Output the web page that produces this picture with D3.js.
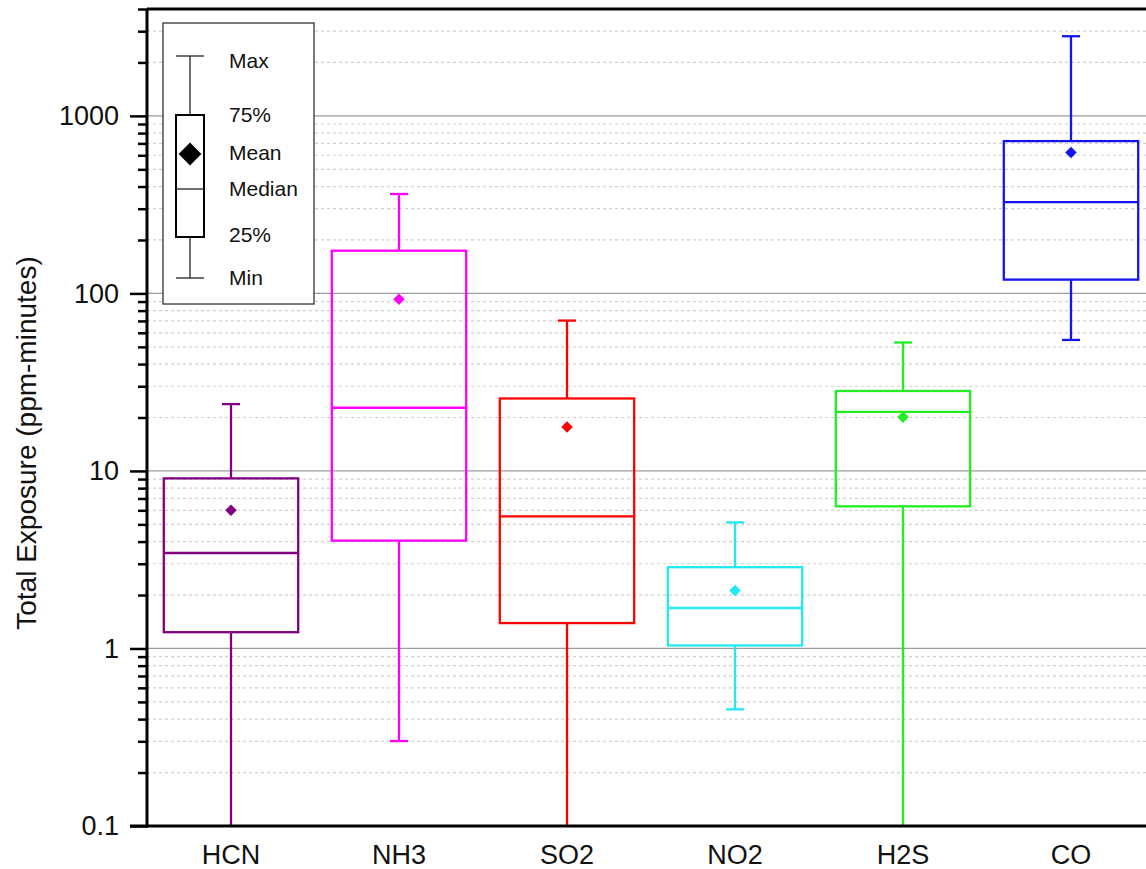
<!DOCTYPE html>
<html>
<head>
<meta charset="utf-8">
<script src="https://cdn.jsdelivr.net/npm/d3@7"></script>
<style>
  body { margin: 0; background: #fff; }
  svg { display: block; }
  svg text { font-family: "Liberation Sans", Arial, sans-serif; }
</style>
</head>
<body>
<script>
// Data (ppm-minutes)
const gases   = ["HCN", "NH3", "SO2", "NO2", "H2S", "CO"];
const colours = ["#800080", "#ff00ff", "#ff0000", "#22e8f0", "#22ee22", "#1414f0"];
const mins    = [0.05, 0.301, 0.05, 0.454, 0.05, 54.7];
const q1s     = [1.235, 4.05, 1.39, 1.04, 6.32, 119.6];
const medians = [3.45, 22.7, 5.55, 1.69, 21.5, 327];
const means   = [6.0, 92.8, 17.7, 2.12, 20.1, 622];
const q3s     = [9.08, 174, 25.6, 2.87, 28.2, 721];
const maxs    = [23.8, 363, 70.3, 5.13, 52.9, 2810];
const yTicks  = [0.1, 1, 10, 100, 1000];
const legendLabels = ["Max", "75%", "Mean", "Median", "25%", "Min"];

const data = gases.map((g, i) => ({
    gas: g, colour: colours[i], min: mins[i], q1: q1s[i],
    median: medians[i], mean: means[i], q3: q3s[i], max: maxs[i]
}));

const width = 1146, height = 869;
const margin = { top: 9, right: -9, bottom: 43, left: 147 };
const plotBottom = height - margin.bottom;
const plotRight = width - margin.right;
const boxStroke = 2.3;

const svg = d3.select('body').append('svg')
    .attr('width', width)
    .attr('height', height);

const x = d3.scaleBand()
    .domain(gases)
    .range([margin.left, plotRight])
    .paddingInner(0.2)
    .paddingOuter(0.1);

const y = d3.scaleLog()
    .domain([0.1, 4000])
    .range([plotBottom, margin.top]);

// minor values 2..9 per decade
const minorVals = [];
[0.1, 1, 10, 100, 1000].forEach(d => {
    for (let k = 2; k <= 9; k++) {
        const v = d * k;
        if (v <= 4000) minorVals.push(v);
    }
});

// Gridlines
svg.append('g').selectAll('line.minor')
    .data(minorVals)
    .enter().append('line')
    .attr('x1', margin.left).attr('x2', plotRight)
    .attr('y1', d => y(d)).attr('y2', d => y(d))
    .attr('stroke', '#cfcfcf')
    .attr('stroke-width', 1.2)
    .attr('stroke-dasharray', '3,3');

svg.append('g').selectAll('line.major')
    .data(yTicks.slice(1))
    .enter().append('line')
    .attr('x1', margin.left).attr('x2', plotRight)
    .attr('y1', d => y(d)).attr('y2', d => y(d))
    .attr('stroke', '#9a9a9a')
    .attr('stroke-width', 1.3);

// Boxes
svg.append('clipPath').attr('id', 'plotclip')
    .append('rect')
    .attr('x', margin.left).attr('y', margin.top)
    .attr('width', plotRight - margin.left)
    .attr('height', plotBottom - margin.top);

const boxes = svg.append('g')
    .attr('clip-path', 'url(#plotclip)')
    .selectAll('g')
    .data(data)
    .enter().append('g')
    .attr('stroke', d => d.colour)
    .attr('stroke-width', boxStroke);

const cx = d => x(d.gas) + x.bandwidth() / 2;
const capHalf = 9;

boxes.append('line')
    .attr('x1', cx).attr('x2', cx)
    .attr('y1', d => y(d.q3)).attr('y2', d => y(d.max));
boxes.append('line')
    .attr('x1', cx).attr('x2', cx)
    .attr('y1', d => y(d.q1)).attr('y2', d => y(d.min));
boxes.append('line')
    .attr('x1', d => cx(d) - capHalf).attr('x2', d => cx(d) + capHalf)
    .attr('y1', d => y(d.max)).attr('y2', d => y(d.max));
boxes.append('line')
    .attr('x1', d => cx(d) - capHalf).attr('x2', d => cx(d) + capHalf)
    .attr('y1', d => y(d.min)).attr('y2', d => y(d.min));
boxes.append('rect')
    .attr('x', d => x(d.gas))
    .attr('y', d => y(d.q3))
    .attr('width', x.bandwidth())
    .attr('height', d => y(d.q1) - y(d.q3))
    .attr('fill', 'none');
boxes.append('line')
    .attr('x1', d => x(d.gas)).attr('x2', d => x(d.gas) + x.bandwidth())
    .attr('y1', d => y(d.median)).attr('y2', d => y(d.median));
boxes.append('path')
    .attr('d', d3.symbol(d3.symbolDiamond2, 85))
    .attr('transform', d => `translate(${cx(d)},${y(d.mean)})`)
    .attr('stroke', 'none')
    .attr('fill', d => d.colour);

// Y axis: minor ticks then major ticks
const minorAxis = svg.append('g')
    .attr('transform', `translate(${margin.left},0)`)
    .call(d3.axisLeft(y).tickValues(minorVals).tickSize(9).tickFormat(''));
const majorAxis = svg.append('g')
    .attr('transform', `translate(${margin.left},0)`)
    .call(d3.axisLeft(y).tickValues(yTicks).tickSize(17).tickPadding(11)
        .tickFormat(d => String(d)));
[minorAxis, majorAxis].forEach(a => {
    a.attr('font-family', null);
    a.select('.domain').remove();
    a.selectAll('.tick line').attr('stroke', '#000').attr('stroke-width', 2.5);
});
majorAxis.selectAll('.tick text')
    .attr('fill', '#111')
    .style('font-size', '27px');

// X axis labels
const xAxis = svg.append('g')
    .attr('transform', `translate(0,${plotBottom})`)
    .call(d3.axisBottom(x).tickSize(0).tickPadding(19));
xAxis.attr('font-family', null);
xAxis.select('.domain').remove();
xAxis.selectAll('.tick text')
    .attr('fill', '#111')
    .style('font-size', '27px');

// Frame
svg.append('line')
    .attr('x1', margin.left).attr('x2', margin.left)
    .attr('y1', margin.top).attr('y2', plotBottom + 1.5)
    .attr('stroke', '#000').attr('stroke-width', 3);
svg.append('line')
    .attr('x1', margin.left - 17).attr('x2', plotRight)
    .attr('y1', plotBottom).attr('y2', plotBottom)
    .attr('stroke', '#000').attr('stroke-width', 3);
svg.append('line')
    .attr('x1', margin.left).attr('x2', plotRight)
    .attr('y1', margin.top).attr('y2', margin.top)
    .attr('stroke', '#000').attr('stroke-width', 3);

// Y axis title
svg.append('text')
    .attr('transform', 'translate(36,443) rotate(-90)')
    .attr('text-anchor', 'middle')
    .attr('fill', '#111')
    .style('font-size', '28px')
    .text('Total Exposure (ppm-minutes)');

// Legend
const legend = svg.append('g').attr('transform', 'translate(163,23)');
legend.append('rect')
    .attr('width', 151).attr('height', 281)
    .attr('fill', '#fff')
    .attr('stroke', '#333').attr('stroke-width', 1.3);

const lg = { cx: 27, half: 14, max: 33, q3: 92, mean: 131, median: 166, q1: 214, min: 255 };
const lgStroke = '#222';
legend.append('line').attr('x1', lg.cx).attr('x2', lg.cx).attr('y1', lg.max).attr('y2', lg.q3)
    .attr('stroke', lgStroke).attr('stroke-width', 1.3);
legend.append('line').attr('x1', lg.cx).attr('x2', lg.cx).attr('y1', lg.q1).attr('y2', lg.min)
    .attr('stroke', lgStroke).attr('stroke-width', 1.3);
legend.append('line').attr('x1', lg.cx - lg.half).attr('x2', lg.cx + lg.half).attr('y1', lg.max).attr('y2', lg.max)
    .attr('stroke', lgStroke).attr('stroke-width', 1.3);
legend.append('line').attr('x1', lg.cx - lg.half).attr('x2', lg.cx + lg.half).attr('y1', lg.min).attr('y2', lg.min)
    .attr('stroke', lgStroke).attr('stroke-width', 1.3);
legend.append('rect')
    .attr('x', lg.cx - lg.half).attr('y', lg.q3)
    .attr('width', lg.half * 2).attr('height', lg.q1 - lg.q3)
    .attr('fill', 'none').attr('stroke', '#000').attr('stroke-width', 2);
legend.append('line').attr('x1', lg.cx - lg.half).attr('x2', lg.cx + lg.half).attr('y1', lg.median).attr('y2', lg.median)
    .attr('stroke', lgStroke).attr('stroke-width', 1.3);
legend.append('path')
    .attr('d', d3.symbol(d3.symbolDiamond2, 330))
    .attr('transform', `translate(${lg.cx},${lg.mean})`)
    .attr('fill', '#000');

const legendY = [38, 92, 130, 166, 212, 255];
legend.selectAll('text.lab')
    .data(legendLabels)
    .enter().append('text')
    .attr('x', 66)
    .attr('y', (d, i) => legendY[i])
    .attr('dy', '0.35em')
    .attr('fill', '#111')
    .style('font-size', '21px')
    .text(d => d);
</script>
</body>
</html>
